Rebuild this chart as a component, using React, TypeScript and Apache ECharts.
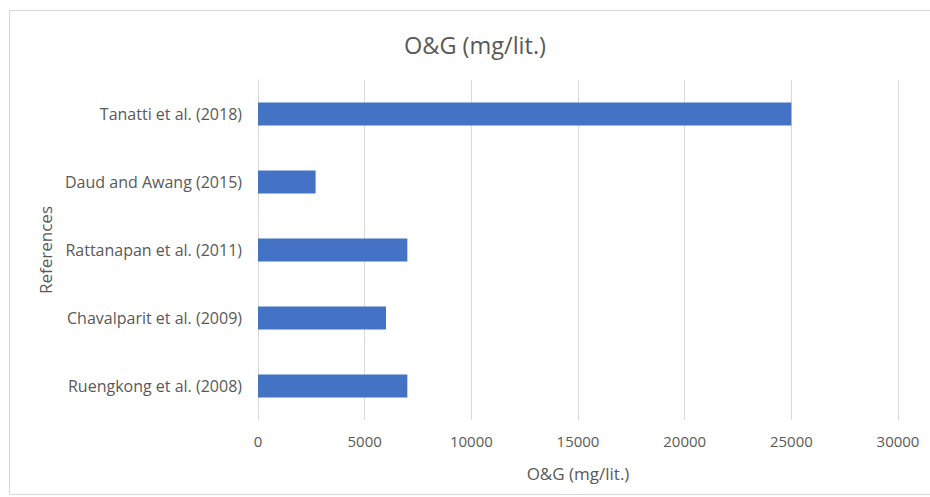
import React, { useEffect, useRef } from "react";
import * as echarts from "echarts";

const categories = [
  "Tanatti et al. (2018)",
  "Daud and Awang (2015)",
  "Rattanapan et al. (2011)",
  "Chavalparit et al. (2009)",
  "Ruengkong et al. (2008)",
];
const values = [25000, 2700, 7000, 6000, 7000];
const titleText = "O&G (mg/lit.)";
const xAxisTitle = "O&G (mg/lit.)";
const yAxisTitle = "References";

const FONT = "'Open Sans', 'Noto Sans', sans-serif";
const TEXT = "#595959";
const GRID = "#D9D9D9";

export default function App() {
  const ref = useRef<HTMLDivElement>(null);
  useEffect(() => {
    if (!ref.current) return;
    const chart = echarts.init(ref.current, null, { renderer: "svg" });
    chart.setOption({
      animation: false,
      backgroundColor: "#ffffff",
      graphic: [
        {
          type: "rect",
          shape: { x: 9.5, y: 10.5, width: 930, height: 484 },
          style: { fill: "none", stroke: GRID, lineWidth: 1 },
          silent: true,
        },
        {
          type: "text",
          x: 475,
          y: 45,
          style: {
            text: titleText,
            fontFamily: FONT,
            fontSize: 23.5,
            fill: TEXT,
            align: "center",
            verticalAlign: "middle",
          },
          silent: true,
        },
      ],
      grid: { left: 258, right: 32, top: 80, bottom: 77, containLabel: false },
      xAxis: {
        type: "value",
        min: 0,
        max: 30000,
        interval: 5000,
        name: xAxisTitle,
        nameLocation: "middle",
        nameGap: 45,
        nameTextStyle: { fontFamily: FONT, fontSize: 17, color: TEXT },
        axisLine: { show: false },
        axisTick: { show: false },
        splitLine: { show: true, lineStyle: { color: GRID, width: 1 } },
        axisLabel: {
          fontFamily: FONT,
          fontSize: 15,
          color: TEXT,
          margin: 13,
          formatter: (v: number) => String(v),
        },
      },
      yAxis: {
        type: "category",
        data: categories,
        inverse: true,
        name: yAxisTitle,
        nameLocation: "middle",
        nameGap: 202,
        nameTextStyle: { fontFamily: FONT, fontSize: 17, color: TEXT },
        axisLine: { show: true, lineStyle: { color: GRID, width: 1 } },
        axisTick: { show: false },
        axisLabel: { fontFamily: FONT, fontSize: 16, color: TEXT, margin: 16 },
      },
      series: [
        {
          type: "bar",
          data: values,
          barWidth: 23,
          itemStyle: { color: "#4472C4" },
        },
      ],
    });
    return () => chart.dispose();
  }, []);
  return (
    <div
      ref={ref}
      style={{ position: "absolute", left: 0, top: 0, width: 930, height: 497 }}
    />
  );
}
